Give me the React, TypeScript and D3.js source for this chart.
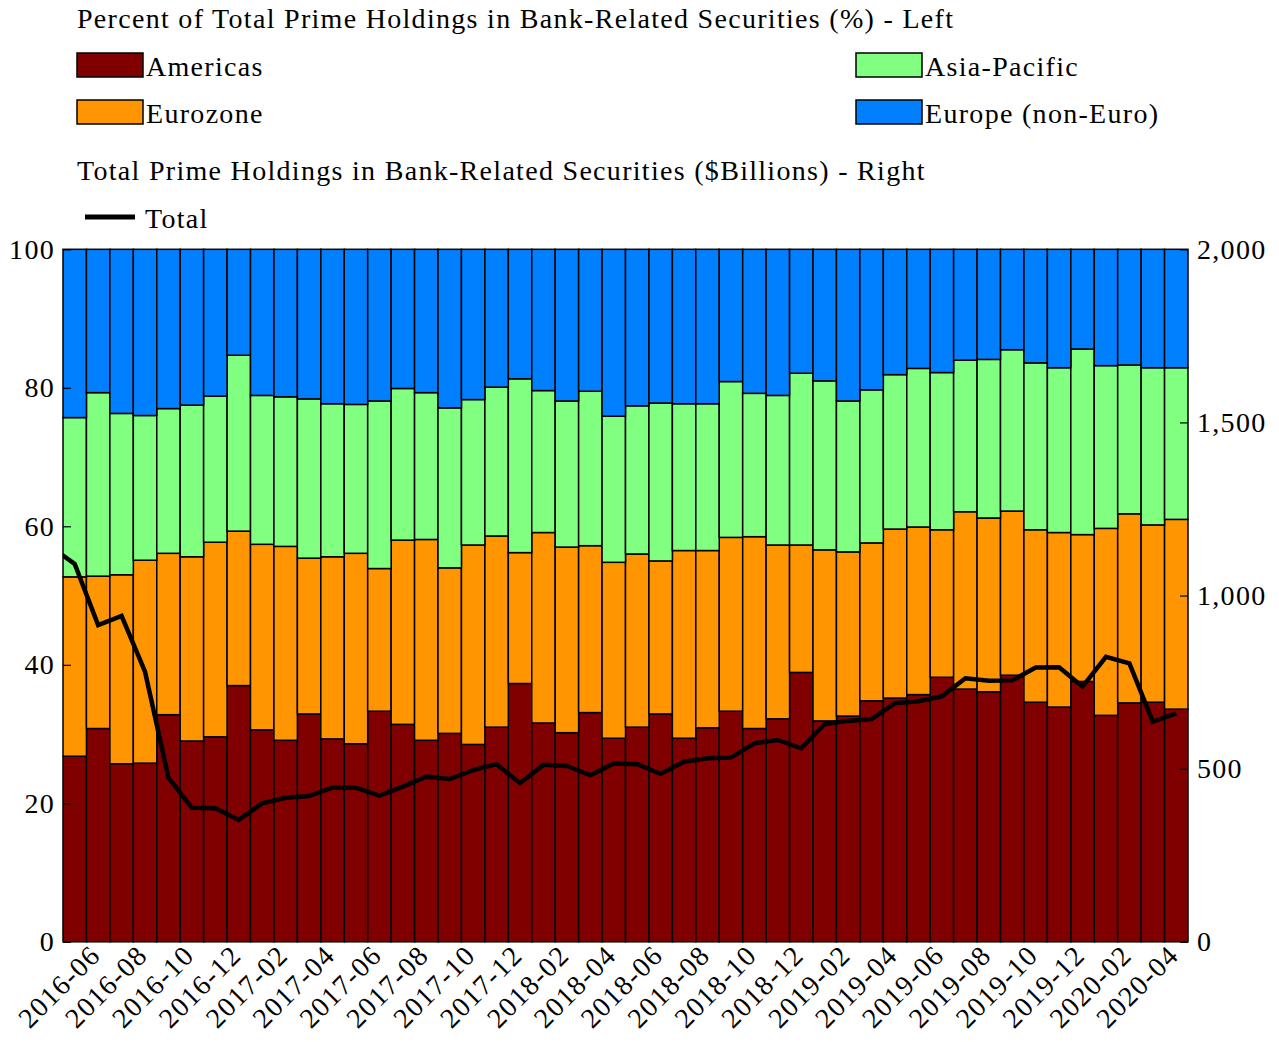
import React, { useEffect, useRef } from 'react';
import * as d3 from 'd3';

// months on the x axis (one bar per month)
const months = [
  '2016-05', '2016-06', '2016-07', '2016-08', '2016-09', '2016-10', '2016-11', '2016-12',
  '2017-01', '2017-02', '2017-03', '2017-04', '2017-05', '2017-06', '2017-07', '2017-08',
  '2017-09', '2017-10', '2017-11', '2017-12', '2018-01', '2018-02', '2018-03', '2018-04',
  '2018-05', '2018-06', '2018-07', '2018-08', '2018-09', '2018-10', '2018-11', '2018-12',
  '2019-01', '2019-02', '2019-03', '2019-04', '2019-05', '2019-06', '2019-07', '2019-08',
  '2019-09', '2019-10', '2019-11', '2019-12', '2020-01', '2020-02', '2020-03', '2020-04',
];

// percent of total prime holdings in bank-related securities
const americas = [
  26.8, 30.8, 25.7, 25.8, 32.8, 29.0, 29.6, 37.0, 30.6, 29.1, 32.9, 29.3,
  28.6, 33.3, 31.4, 29.1, 30.1, 28.5, 31.0, 37.3, 31.6, 30.2, 33.1, 29.4,
  31.0, 32.9, 29.4, 30.9, 33.3, 30.8, 32.2, 38.9, 31.9, 32.6, 34.8, 35.2,
  35.7, 38.2, 36.5, 36.1, 38.5, 34.6, 33.9, 37.6, 32.7, 34.5, 34.6, 33.6,
];
const eurozone = [
  25.9, 22.0, 27.3, 29.3, 23.3, 26.6, 28.1, 22.3, 26.8, 28.0, 22.5, 26.3,
  27.5, 20.6, 26.6, 29.0, 23.9, 28.8, 27.6, 18.9, 27.5, 26.8, 24.1, 25.4,
  25.0, 22.1, 27.1, 25.6, 25.1, 27.7, 25.1, 18.4, 24.7, 23.7, 22.8, 24.4,
  24.2, 21.3, 25.6, 25.1, 23.7, 24.9, 25.2, 21.2, 27.0, 27.3, 25.6, 27.4,
];
const asiaPacific = [
  23.0, 26.5, 23.3, 20.9, 20.9, 21.9, 21.1, 25.4, 21.5, 21.6, 23.0, 22.1,
  21.5, 24.2, 21.9, 21.2, 23.1, 21.0, 21.5, 25.1, 20.5, 21.1, 22.3, 21.1,
  21.4, 22.8, 21.2, 21.2, 22.5, 20.7, 21.6, 24.8, 24.4, 21.8, 22.1, 22.3,
  22.9, 22.7, 21.9, 22.9, 23.3, 24.1, 23.8, 26.8, 23.5, 21.5, 22.7, 21.9,
];
const europeNonEuro = [
  24.3, 20.7, 23.7, 24.0, 23.0, 22.5, 21.2, 15.3, 21.1, 21.3, 21.6, 22.3,
  22.4, 21.9, 20.1, 20.7, 22.9, 21.7, 19.9, 18.7, 20.4, 21.9, 20.5, 24.1,
  22.6, 22.2, 22.3, 22.3, 19.1, 20.8, 21.1, 17.9, 19.0, 21.9, 20.3, 18.1,
  17.2, 17.8, 16.0, 15.9, 14.5, 16.4, 17.1, 14.4, 16.8, 16.7, 17.1, 17.1,
];

// total prime holdings ($ billions); the series starts one month before the first bar (2016-04)
const totalBefore = 1140;
const total = [
  1091, 915, 941, 780, 474, 387, 386, 352, 400, 416, 421, 445,
  445, 422, 448, 477, 470, 496, 513, 458, 511, 508, 481, 515,
  513, 485, 520, 530, 532, 573, 583, 559, 629, 638, 643, 689,
  695, 709, 761, 754, 755, 792, 793, 737, 823, 804, 636, 660,
];

const seriesKeys = ['americas', 'eurozone', 'asiaPacific', 'europeNonEuro'];
const seriesLabels = ['Americas', 'Eurozone', 'Asia-Pacific', 'Europe (non-Euro)'];
const seriesColors = ['#800000', '#ff9500', '#80ff80', '#0080ff'];

const leftTicks = [0, 20, 40, 60, 80, 100];
const rightTicks = [0, 500, 1000, 1500, 2000];

const FONT = '"Liberation Serif", "Times New Roman", serif';
const FS = 28;
const SPACING = 1.3; // the original face (a Garamond) runs wider than Times

const App: React.FC = () => {
  const ref = useRef<SVGSVGElement | null>(null);

  useEffect(() => {
    const svg = d3.select(ref.current);
    svg.selectAll('*').remove();

    const width = 1279;
    const height = 1042;
    const plot = { left: 63, right: 1188, top: 249.3, bottom: 941.8 };

    svg
      .attr('width', width)
      .attr('height', height)
      .attr('font-family', FONT)
      .attr('letter-spacing', SPACING);

    const x = d3.scaleLinear().domain([0, months.length]).range([plot.left, plot.right]);
    const y = d3.scaleLinear().domain([0, 100]).range([plot.bottom, plot.top]);
    const y2 = d3.scaleLinear().domain([0, 2000]).range([plot.bottom, plot.top]);

    const rows = months.map((m, i) => ({
      month: m,
      americas: americas[i],
      eurozone: eurozone[i],
      asiaPacific: asiaPacific[i],
      europeNonEuro: europeNonEuro[i],
    }));
    const stacked = d3.stack<any>().keys(seriesKeys)(rows);

    // stacked bars
    svg
      .append('g')
      .selectAll('g')
      .data(stacked)
      .join('g')
      .attr('fill', (d, i) => seriesColors[i])
      .selectAll('rect')
      .data(d => d)
      .join('rect')
      .attr('x', (d, i) => x(i))
      .attr('width', x(1) - x(0))
      .attr('y', d => y(d[1]))
      .attr('height', d => y(d[0]) - y(d[1]))
      .attr('stroke', '#000')
      .attr('stroke-width', 1.5);

    // left axis (percent)
    const gl = svg
      .append('g')
      .attr('transform', `translate(${plot.left},0)`)
      .call(d3.axisLeft(y).tickValues(leftTicks).tickSize(-8).tickPadding(8));
    gl.select('.domain').remove();
    gl.selectAll('line').attr('stroke', '#000').attr('stroke-width', 1.2);
    gl.selectAll('text').attr('font-family', FONT).attr('font-size', FS).attr('fill', '#000');

    // right axis ($ billions)
    const gr = svg
      .append('g')
      .attr('transform', `translate(${plot.right},0)`)
      .call(
        d3.axisRight(y2).tickValues(rightTicks).tickFormat(d3.format(',')).tickSize(-8).tickPadding(9)
      );
    gr.select('.domain').remove();
    gr.selectAll('line').attr('stroke', '#000').attr('stroke-width', 1.2);
    gr.selectAll('text').attr('font-family', FONT).attr('font-size', FS).attr('fill', '#000');

    // x labels, every other month
    svg
      .append('g')
      .selectAll('text')
      .data(months.map((m, i) => ({ m, i })).filter(d => d.i % 2 === 1))
      .join('text')
      .attr('transform', d => `translate(${x(d.i + 0.5) + 4},957) rotate(-45)`)
      .attr('text-anchor', 'end')
      .attr('font-size', FS)
      .text(d => d.m);

    // total line, clipped to the plot
    svg
      .append('clipPath')
      .attr('id', 'plot-clip')
      .append('rect')
      .attr('x', plot.left)
      .attr('y', plot.top - 10)
      .attr('width', plot.right - plot.left)
      .attr('height', plot.bottom - plot.top + 20);

    const line = d3
      .line<number>()
      .x((d, i) => x(i - 0.5))
      .y(d => y2(d));

    svg
      .append('path')
      .datum([totalBefore, ...total])
      .attr('clip-path', 'url(#plot-clip)')
      .attr('fill', 'none')
      .attr('stroke', '#000')
      .attr('stroke-width', 4.5)
      .attr('d', line);

    // legend
    const legend = svg.append('g').attr('font-size', FS).attr('fill', '#000');
    legend
      .append('text')
      .attr('x', 77)
      .attr('y', 28)
      .text('Percent of Total Prime Holdings in Bank-Related Securities (%) - Left');

    const legendPos = [
      { x: 77, y: 53 },
      { x: 77, y: 100 },
      { x: 856, y: 53 },
      { x: 856, y: 100 },
    ];
    seriesLabels.forEach((label, i) => {
      const p = legendPos[i];
      legend
        .append('rect')
        .attr('x', p.x)
        .attr('y', p.y)
        .attr('width', 66)
        .attr('height', 24)
        .attr('fill', seriesColors[i])
        .attr('stroke', '#000')
        .attr('stroke-width', 1.5);
      legend
        .append('text')
        .attr('x', p.x + 69)
        .attr('y', p.y + 23)
        .text(label);
    });

    legend
      .append('text')
      .attr('x', 77)
      .attr('y', 180)
      .text('Total Prime Holdings in Bank-Related Securities ($Billions) - Right');
    legend
      .append('line')
      .attr('x1', 85)
      .attr('x2', 135)
      .attr('y1', 217)
      .attr('y2', 217)
      .attr('stroke', '#000')
      .attr('stroke-width', 5);
    legend.append('text').attr('x', 145).attr('y', 228).text('Total');
  }, []);

  return (
    <svg
      ref={ref}
      style={{ position: 'absolute', left: 0, top: 0, display: 'block' }}
    ></svg>
  );
};

export default App;
